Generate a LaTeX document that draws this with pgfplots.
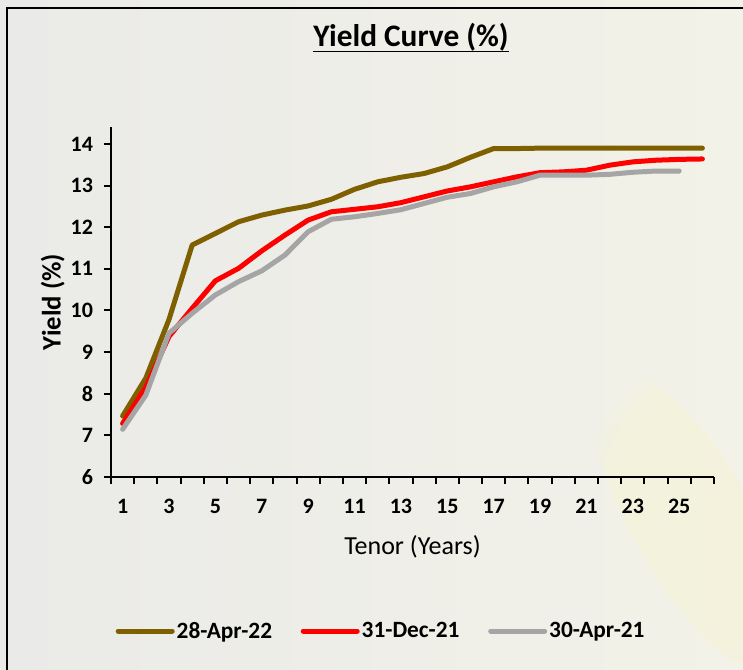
\documentclass[border=0pt]{standalone}
\usepackage{pgfplots}
\pgfplotsset{compat=1.18}
\usetikzlibrary{fadings}
\usepackage{fontspec}
\setmainfont{Carlito}
\definecolor{cBrown}{HTML}{7F6000}
\definecolor{cRed}{HTML}{FF0000}
\definecolor{cGray}{HTML}{A5A5A5}
\definecolor{bgL}{HTML}{EAEAE8}
\definecolor{bgR}{HTML}{F3F2E8}
\definecolor{glow}{HTML}{F6F4CF}
\newcommand\ulbox[1]{\setbox0\hbox{#1}\rlap{\rule[-4.2pt]{\wd0}{1.3pt}}\box0}
\begin{document}
\begin{tikzpicture}
\useasboundingbox (0,0) rectangle (557.25pt,501.75pt);
\shade[left color=bgL, right color=bgR] (0,0) rectangle (557.25pt,501.75pt);
\fill[glow, path fading=circle with fuzzy edge 20 percent, opacity=0.45, rotate around={30:(520pt,110pt)}] (520pt,110pt) ellipse (45pt and 130pt);
\draw[line width=1.5pt] (5.25pt,-5pt) -- (5.25pt,495.75pt) -- (565pt,495.75pt);
\begin{axis}[
  at={(83.25pt,144.2pt)}, anchor=south west,
  scale only axis, width=452.25pt, height=262.05pt,
  xmin=0.5, xmax=26.5, ymin=6, ymax=14.4,
  axis x line*=bottom, axis y line*=left,
  axis line style={line width=1.5pt, -},
  xtick={0.5,1.5,...,26.5}, xticklabels={},
  extra x ticks={1,3,...,25},
  extra x tick style={major tick length=0pt, tick style={draw=none}},
  ytick={6,7,...,14},
  tick align=outside,
  major tick length=5.5pt,
  tick style={black, line width=1.5pt},
  ticklabel style={font=\bfseries\fontsize{16.5}{19}\selectfont},
  /pgf/number format/assume math mode=true,
  xticklabel style={yshift=-13.5pt},
  yticklabel style={xshift=-4.5pt},
  xlabel={Tenor (Years)},
  xlabel style={at={(axis description cs:0.5,-0.2003)}, anchor=center, font=\fontsize{19.5}{22}\selectfont},
  ylabel={Yield (\%)},
  ylabel style={at={(axis description cs:-0.0967,0.5)}, anchor=center, rotate=0, font=\bfseries\fontsize{20}{22}\selectfont},
  title={\ulbox{Yield Curve (\%)}},
  title style={at={(axis description cs:0.4975,1.2327)}, anchor=center, font=\bfseries\fontsize{23.5}{26}\selectfont},
  legend columns=3,
  legend style={at={(axis description cs:0.448,-0.4416)}, anchor=center, draw=none, fill=none,
    font=\bfseries\fontsize{17.5}{20}\selectfont,
    nodes={inner xsep=1.5pt},
    /tikz/every even column/.append style={column sep=20pt}},
  legend image code/.code={\draw[#1, line width=3.75pt, line cap=round] (0pt,0pt) -- (40.5pt,0pt);},
  every axis plot/.append style={line width=3.75pt, line cap=round, line join=round},
]
\addplot[cBrown] coordinates {
(1,7.46) (2,8.37) (3,9.78) (4,11.57) (5,11.85) (6,12.13) (7,12.29) (8,12.41) (9,12.51) (10,12.67)
(11,12.91) (12,13.09) (13,13.20) (14,13.29) (15,13.45) (16,13.68) (17,13.89) (18,13.89) (19,13.90) (20,13.90)
(21,13.90) (22,13.90) (23,13.90) (24,13.90) (25,13.90) (26,13.90)};
\addlegendentry{28-Apr-22}
\addplot[cRed] coordinates {
(1,7.28) (2,8.15) (3,9.37) (4,10.05) (5,10.71) (6,11.01) (7,11.43) (8,11.81) (9,12.17) (10,12.37)
(11,12.43) (12,12.49) (13,12.59) (14,12.73) (15,12.87) (16,12.97) (17,13.09) (18,13.21) (19,13.31) (20,13.33)
(21,13.37) (22,13.49) (23,13.57) (24,13.61) (25,13.63) (26,13.64)};
\addlegendentry{31-Dec-21}
\addplot[cGray] coordinates {
(1,7.14) (2,7.96) (3,9.45) (4,9.93) (5,10.37) (6,10.69) (7,10.95) (8,11.33) (9,11.89) (10,12.19)
(11,12.25) (12,12.33) (13,12.42) (14,12.57) (15,12.72) (16,12.81) (17,12.97) (18,13.09) (19,13.25) (20,13.25)
(21,13.25) (22,13.27) (23,13.32) (24,13.35) (25,13.35)};
\addlegendentry{30-Apr-21}
\end{axis}
\end{tikzpicture}
\end{document}
